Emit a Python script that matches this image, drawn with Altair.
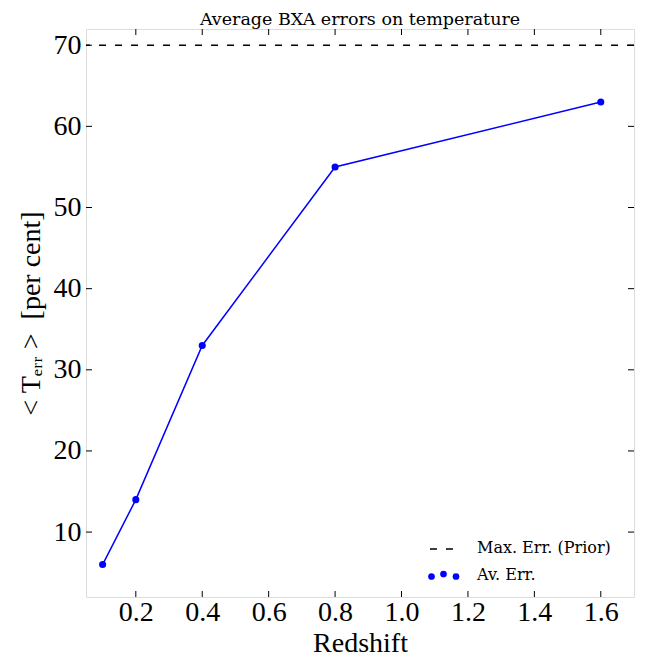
import altair as alt
import pandas as pd

# ---- data ----
redshift = [0.1, 0.2, 0.4, 0.8, 1.6]
av_err = [6, 14, 33, 55, 63]
prior_max = [70]
x_ticks = [0.2, 0.4, 0.6, 0.8, 1.0, 1.2, 1.4, 1.6]
y_ticks = [10, 20, 30, 40, 50, 60, 70]
title_text = "Average BXA errors on temperature"

W, H = 548, 568
SERIF = "'Liberation Serif', 'Times New Roman', serif"
WIDE = "'DejaVu Serif', serif"
BLUE = "#0000ff"

df = pd.DataFrame({"z": redshift, "err": av_err})
prior_df = pd.DataFrame({"err": prior_max})
xt = pd.DataFrame({"z": x_ticks})
yt = pd.DataFrame({"err": y_ticks})

xs = alt.Scale(domain=[0.05, 1.7], nice=False, zero=False)
ys = alt.Scale(domain=[2, 72], nice=False, zero=False)

x_axis = alt.Axis(values=x_ticks, format=".1f", ticks=False, domain=False, grid=False,
                  labelFont=SERIF, labelFontSize=28, labelColor="black", labelPadding=1,
                  title="Redshift", titleFont=SERIF, titleFontSize=28,
                  titleFontWeight="normal", titleColor="black", titlePadding=3)
y_axis = alt.Axis(values=y_ticks, format="d", ticks=False, domain=False, grid=False,
                  labelFont=SERIF, labelFontSize=28, labelColor="black", labelPadding=5,
                  title="< T\u2091\u1d63\u1d63 >\u2002[per cent]", titleFont=SERIF,
                  titleFontSize=28, titleFontWeight="normal", titleColor="black",
                  titlePadding=8)

line = alt.Chart(df).mark_line(color=BLUE, strokeWidth=1.5).encode(
    x=alt.X("z:Q", scale=xs, axis=x_axis),
    y=alt.Y("err:Q", scale=ys, axis=y_axis),
)
pts = alt.Chart(df).mark_circle(color=BLUE, size=50, opacity=1).encode(
    x=alt.X("z:Q", scale=xs), y=alt.Y("err:Q", scale=ys)
)
prior = alt.Chart(prior_df).mark_rule(color="black", strokeWidth=1.5, strokeDash=[7, 9]).encode(
    y=alt.Y("err:Q", scale=ys)
)

# inward ticks on all four sides
tick_style = dict(color="black", strokeWidth=1)
xb = alt.Chart(xt).mark_rule(**tick_style).encode(
    x=alt.X("z:Q", scale=xs), y=alt.value(H), y2=alt.value(H - 6))
xtop = alt.Chart(xt).mark_rule(**tick_style).encode(
    x=alt.X("z:Q", scale=xs), y=alt.value(0), y2=alt.value(6))
yl = alt.Chart(yt).mark_rule(**tick_style).encode(
    y=alt.Y("err:Q", scale=ys), x=alt.value(0), x2=alt.value(6))
yr = alt.Chart(yt).mark_rule(**tick_style).encode(
    y=alt.Y("err:Q", scale=ys), x=alt.value(W - 6), x2=alt.value(W))

# title as a text mark above the plot
title = alt.Chart(prior_df).mark_text(text=title_text, font=WIDE, fontSize=17.5,
                                      align="center", baseline="alphabetic", color="black").encode(
    x=alt.value(W / 2), y=alt.value(-4.5))

# legend (lower right, no frame)
leg_dash = alt.Chart(prior_df).mark_rule(color="black", strokeWidth=1.5, strokeDash=[7, 9]).encode(
    x=alt.value(344), x2=alt.value(370), y=alt.value(520))
leg_t1 = alt.Chart(prior_df).mark_text(text="Max. Err. (Prior)", font=WIDE, fontSize=16,
                                       align="left", baseline="alphabetic", color="black").encode(
    x=alt.value(391), y=alt.value(524))
leg_t2 = alt.Chart(prior_df).mark_text(text="Av. Err.", font=WIDE, fontSize=16,
                                       align="left", baseline="alphabetic", color="black").encode(
    x=alt.value(391), y=alt.value(551))
dots = [
    alt.Chart(prior_df).mark_circle(color=BLUE, size=45, opacity=1).encode(
        x=alt.value(px), y=alt.value(py))
    for px, py in [(345.5, 547.5), (357.5, 545), (370, 547.5)]
]

chart = alt.layer(prior, line, pts, xb, xtop, yl, yr, title, leg_dash, leg_t1, leg_t2, *dots).properties(
    width=W, height=H,
    padding={"left": 78, "top": 21, "right": 9, "bottom": 60},
    autosize=alt.AutoSizeParams(type="none"),
).configure_view(stroke="black", strokeWidth=1.5).configure(background="white")

chart.save("out.html", embed_options={"renderer": "svg", "actions": False})
